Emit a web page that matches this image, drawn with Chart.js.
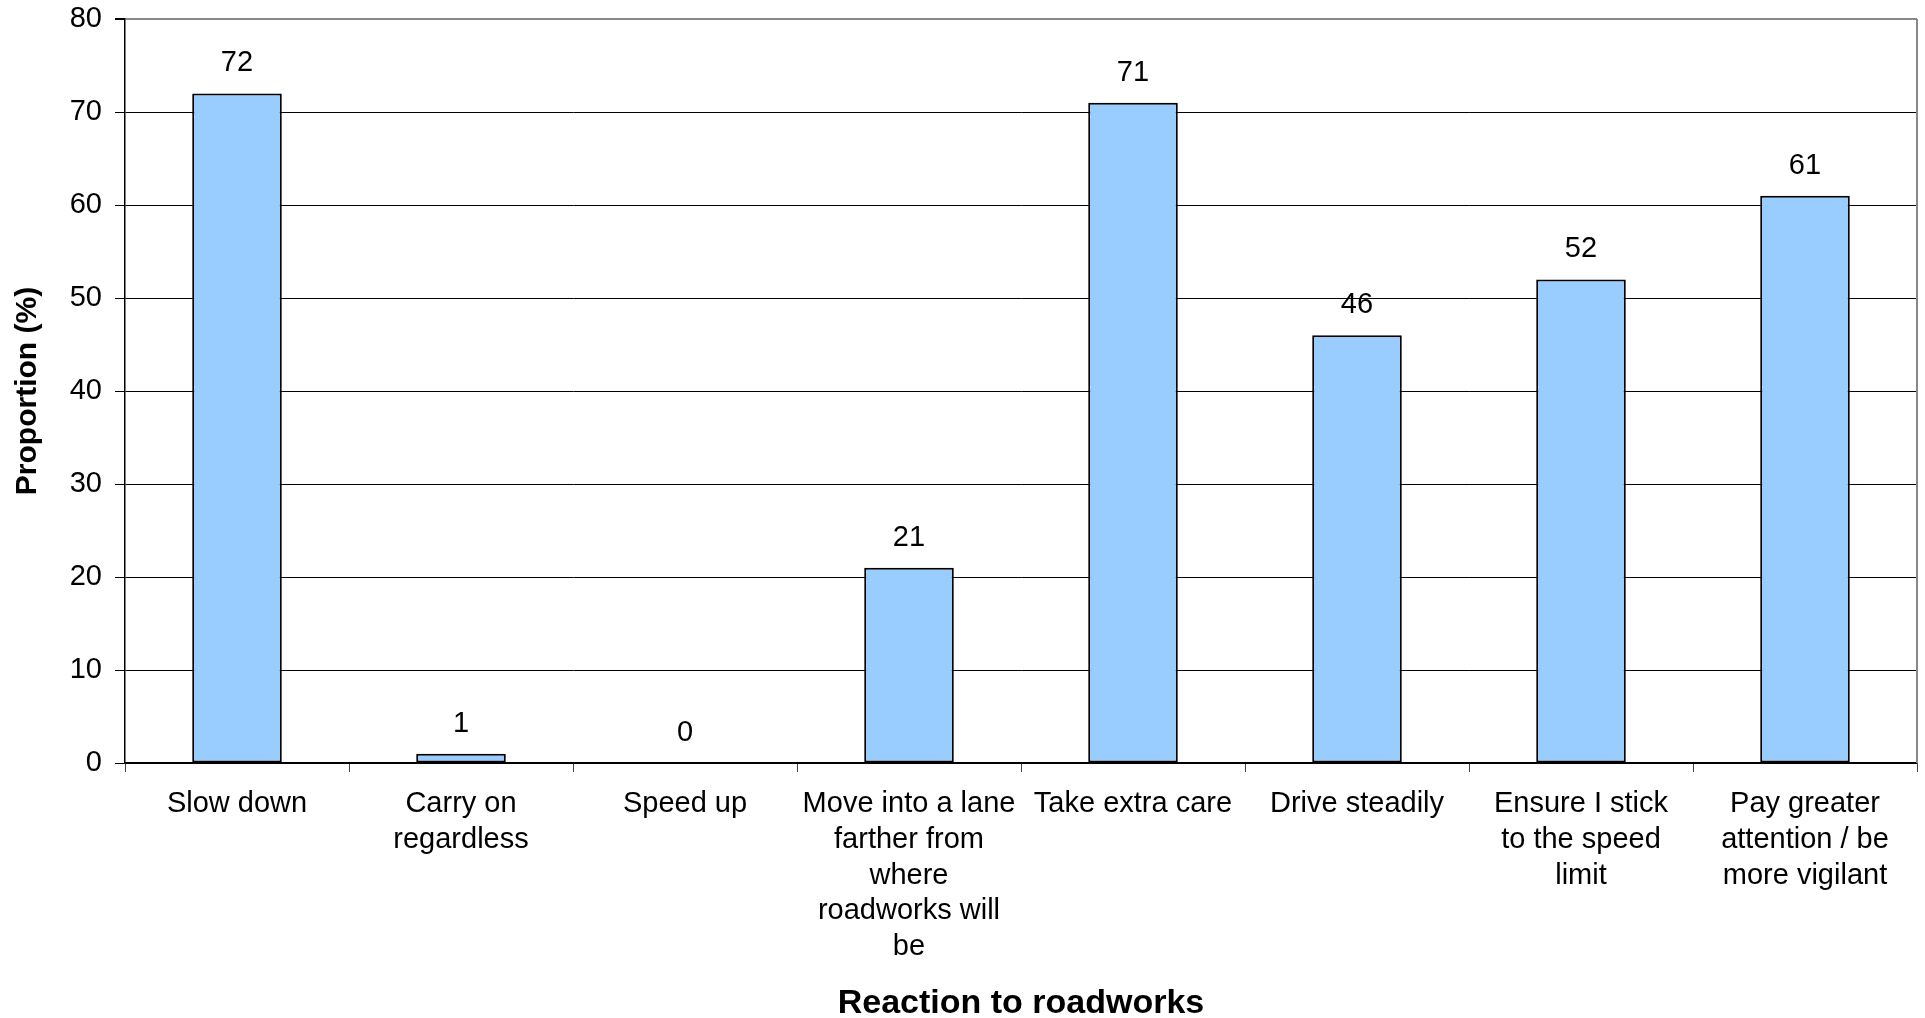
<!DOCTYPE html>
<html>
<head>
<meta charset="utf-8">
<script src="https://cdn.jsdelivr.net/npm/chart.js@4.4.1/dist/chart.umd.min.js"></script>
<style>
  html, body { margin: 0; padding: 0; background: #ffffff; }
  #wrap { width: 1925px; height: 1018px; position: relative; }
</style>
</head>
<body>
<div id="wrap"><canvas id="chart"></canvas></div>
<script>
// Reaction categories (multi-line labels as arrays)
const categories = [
  "Slow down",
  ["Carry on", "regardless"],
  "Speed up",
  ["Move into a lane", "farther from", "where", "roadworks will", "be"],
  "Take extra care",
  "Drive steadily",
  ["Ensure I stick", "to the speed", "limit"],
  ["Pay greater", "attention / be", "more vigilant"]
];
// Proportion of respondents (%)
const proportions = [72, 1, 0, 21, 71, 46, 52, 61];
// Y axis range and step
const yMin = 0;
const yMax = 80;
const yStep = 10;

const FONT = "'Liberation Sans', Arial, sans-serif";

// Writes each bar's value above it
const valueLabels = {
  id: 'valueLabels',
  afterDatasetsDraw(chart) {
    const { ctx } = chart;
    const meta = chart.getDatasetMeta(0);
    ctx.save();
    ctx.font = "29px " + FONT;
    ctx.fillStyle = "#000000";
    ctx.textAlign = "center";
    ctx.textBaseline = "alphabetic";
    meta.data.forEach((bar, i) => {
      ctx.fillText(String(proportions[i]), bar.x, bar.y - 22);
    });
    ctx.restore();
  }
};

// Grey frame on the right edge of the plot area
const plotFrame = {
  id: 'plotFrame',
  beforeDatasetsDraw(chart) {
    const { ctx, chartArea } = chart;
    ctx.save();
    ctx.strokeStyle = "#888888";
    ctx.lineWidth = 2;
    ctx.beginPath();
    ctx.moveTo(chartArea.right, chartArea.top);
    ctx.lineTo(chartArea.right, chartArea.bottom);
    ctx.stroke();
    ctx.restore();
  }
};

new Chart(document.getElementById('chart'), {
  type: 'bar',
  data: {
    labels: categories,
    datasets: [{
      data: proportions,
      backgroundColor: "#99CCFF",
      borderColor: "#000000",
      borderWidth: 2,
      borderSkipped: false,
      categoryPercentage: 1.0,
      barPercentage: 0.4
    }]
  },
  options: {
    responsive: true,
    maintainAspectRatio: false,
    animation: false,
    layout: { padding: { top: 19, right: 8, bottom: 0, left: 0 } },
    plugins: {
      legend: { display: false },
      tooltip: { enabled: false }
    },
    scales: {
      x: {
        afterFit(scale) {
          scale.height = 255;
          scale.paddingLeft = 0;
          scale.paddingRight = 0;
        },
        grid: {
          display: true,
          offset: true,
          drawOnChartArea: false,
          drawTicks: true,
          tickLength: 9,
          color: "#444444",
          lineWidth: 1
        },
        border: { display: true, color: "#000000", width: 1.5 },
        ticks: {
          autoSkip: false,
          maxRotation: 0,
          minRotation: 0,
          padding: 14,
          color: "#000000",
          font: { family: FONT, size: 29, lineHeight: 1.236 }
        },
        title: {
          display: true,
          text: "Reaction to roadworks",
          color: "#000000",
          font: { family: FONT, size: 34, weight: 'bold', lineHeight: 0.85 },
          padding: { top: 0, bottom: 0 }
        }
      },
      y: {
        min: yMin,
        max: yMax,
        afterFit(scale) {
          scale.width = 125;
          scale.paddingTop = 0;
          scale.paddingBottom = 0;
        },
        grid: {
          color: (c) => (c.tick && c.tick.value === yMax) ? "#888888" : "#000000",
          lineWidth: (c) => (c.tick && c.tick.value === yMax) ? 2 : 1,
          drawTicks: true,
          tickLength: 10,
          tickColor: "#000000"
        },
        border: { display: true, color: "#000000", width: 1.5 },
        ticks: {
          stepSize: yStep,
          padding: 13,
          color: "#000000",
          font: { family: FONT, size: 29 }
        },
        title: {
          display: true,
          text: "Proportion (%)",
          color: "#000000",
          font: { family: FONT, size: 30, weight: 'bold', lineHeight: 1.2 },
          padding: { top: 10, bottom: 0 }
        }
      }
    }
  },
  plugins: [valueLabels, plotFrame]
});
</script>
</body>
</html>
